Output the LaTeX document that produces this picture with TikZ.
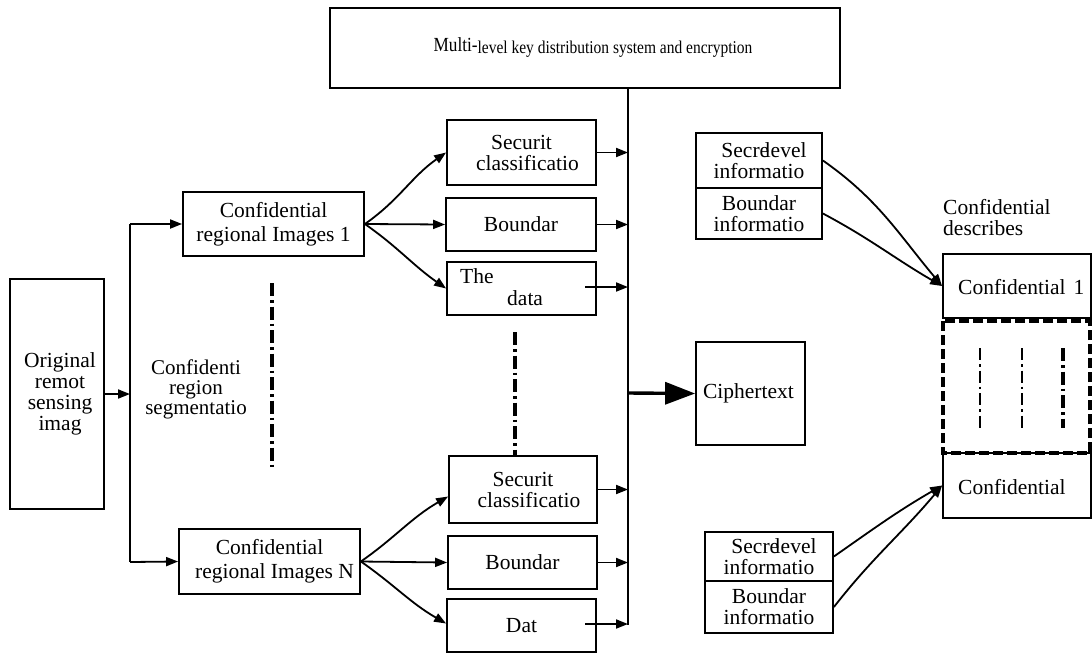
\documentclass[tikz,border=0pt]{standalone}
\usepackage{fontspec}
\setmainfont{Liberation Serif}
\usetikzlibrary{arrows.meta,calc}
\begin{document}
\begin{tikzpicture}[x=1pt,y=-1pt,
  box/.style={draw,line width=1.8pt,inner sep=1pt,align=center,font=\fontsize{21.5}{21}\selectfont},
  plain/.style={inner sep=0pt,font=\fontsize{21.5}{21}\selectfont},
  conn/.style={line width=1.8pt},
  arr/.style={line width=1.8pt,-{Triangle[length=12pt,width=9pt]}},
  dashdot/.style={line width=3.4pt,dash pattern=on 13pt off 4pt on 2.5pt off 4pt},
  dashdotthin/.style={line width=2pt,dash pattern=on 12pt off 4pt on 2.5pt off 4pt}]
\useasboundingbox (0,0) rectangle (1092,654);

% top box
\node[box,minimum width=510pt,minimum height=80pt] (title) at (585,48)
  {\hspace*{16pt}\scalebox{0.86}[1]{{\fontsize{20}{20}\selectfont\raisebox{2pt}{Multi-}}{\fontsize{18}{18}\selectfont level key distribution system and encryption}}};

% left
\node[box,minimum width=94pt,minimum height=230pt] (orig) at (57,394) {\hspace*{6pt}Original\\\hspace*{6pt}remot\\\hspace*{6pt}sensing\\\hspace*{6pt}imag};
\node[plain,align=center,font=\fontsize{21}{20}\selectfont] (seg) at (196,389) {Confidenti\\region\\segmentatio};

\node[box,minimum width=181pt,minimum height=64pt,font=\fontsize{21.5}{24}\selectfont] (cr1) at (273.5,224) {Confidential\\regional Images 1};
\node[box,minimum width=181pt,minimum height=65pt,font=\fontsize{21.5}{24}\selectfont] (crn) at (269.5,561.5) {Confidential\\\hspace*{10pt}regional Images N};

% middle column
\node[box,minimum width=149pt,minimum height=65pt] (sc1) at (521.5,152.5) {Securit\\\hspace*{12pt}classificatio};
\node[box,minimum width=150pt,minimum height=53pt] (bd1) at (521,224.5) {Boundar};
\node[box,minimum width=149pt,minimum height=53pt] (dt1) at (521.5,288.5) {};
\node[plain,anchor=base west] (dt1a) at (460,283) {The};
\node[plain,anchor=base west] (dt1b) at (507,305) {data};

\node[box,minimum width=148pt,minimum height=67pt] (sc2) at (523,489.5) {Securit\\\hspace*{12pt}classificatio};
\node[box,minimum width=149pt,minimum height=53pt] (bd2) at (522.5,562.5) {Boundar};
\node[box,minimum width=149pt,minimum height=53pt] (dt2) at (521.5,625.5) {Dat};

% ciphertext
\node[box,minimum width=109pt,minimum height=103pt] (ciph) at (750.5,393.5) {Ciphertext\hspace*{4pt}};

% right info boxes
\node[box,minimum width=126pt,minimum height=55pt] (sl1) at (759,160.5) {\hspace*{10pt}Secre\hspace{-4.5pt}level\\informatio};
\node[box,minimum width=126pt,minimum height=51pt] (bi1) at (759,213.5) {Boundar\\informatio};
\node[box,minimum width=128pt,minimum height=49pt] (sl2) at (769,556.5) {\hspace*{10pt}Secre\hspace{-4.5pt}level\\informatio};
\node[box,minimum width=128pt,minimum height=52pt] (bi2) at (769,607) {Boundar\\informatio};

% right column
\node[plain,anchor=north west,align=left] (desc) at (943,199) {Confidential\\describes};
\node[box,minimum width=148pt,minimum height=64pt] (cf1) at (1017,286) {};
\node[plain,anchor=west] (cf1t) at (958,287) {Confidential\hspace{8pt}1};
\node[box,minimum width=148pt,minimum height=65pt] (cfn) at (1017,485.5) {};
\node[plain,anchor=west] (cfnt) at (958,487) {Confidential};
\draw[line width=3.2pt,dash pattern=on 10pt off 4pt] (943,321) rectangle (1090,453);
\draw[dashdotthin] (980,348) -- (980,428);
\draw[dashdotthin] (1022,348) -- (1022,428);
\draw[dashdot] (1063,348) -- (1063,428);

% dash-dot separators
\draw[dashdot] (272,283) -- (272,470);
\draw[dashdot] (515,332) -- (515,455);

% bus
\coordinate (btop) at (628,88);
\coordinate (bbot) at (628,625);
\coordinate (bmid) at (628,393);
\draw[conn] (title.south -| btop) -- (bbot);
\draw[arr] (sc1.east) -- (sc1.east -| btop);
\draw[arr] (bd1.east) -- (bd1.east -| btop);
\coordinate (dt1s) at (585,287);
\draw[arr] (dt1s) -- (dt1s -| btop);
\draw[arr] (sc2.east) -- (sc2.east -| btop);
\draw[arr] (bd2.east) -- (bd2.east -| btop);
\coordinate (dt2s) at (585,624);
\draw[arr] (dt2s) -- (dt2s -| btop);
\draw[line width=3.4pt,-{Triangle[length=30pt,width=22pt]}] (bmid) -- (ciph.west);

% left trunk
\coordinate (j1) at (130,224);
\coordinate (j2) at (130,562);
\coordinate (j0) at (130,394);
\draw[arr] (orig.east) -- (j0);
\draw[conn] (j1) -- (j2);
\draw[arr] (j1) -- (cr1.west);
\draw[arr] (j2) -- (crn.west);

% fan-out curves
\draw[arr] (cr1.east) to[out=35,in=215] (sc1.west);
\draw[arr] (cr1.east) -- (bd1.west);
\draw[arr] (cr1.east) to[out=-35,in=145] (dt1.west);
\draw[arr] (crn.east) to[out=35,in=210] ($(sc2.west)+(0,7)$);
\draw[arr] (crn.east) -- (bd2.west);
\draw[arr] (crn.east) to[out=-35,in=150] ($(dt2.west)+(0,-2)$);

% right curves
\draw[arr] (sl1.east) to[out=-35,in=130] (cf1.west);
\draw[arr] (bi1.east) to[out=-28,in=150] (cf1.west);
\draw[arr] (sl2.east) to[out=35,in=-150] (cfn.west);
\draw[arr] (bi2.east) to[out=52,in=-130] (cfn.west);
\end{tikzpicture}
\end{document}
